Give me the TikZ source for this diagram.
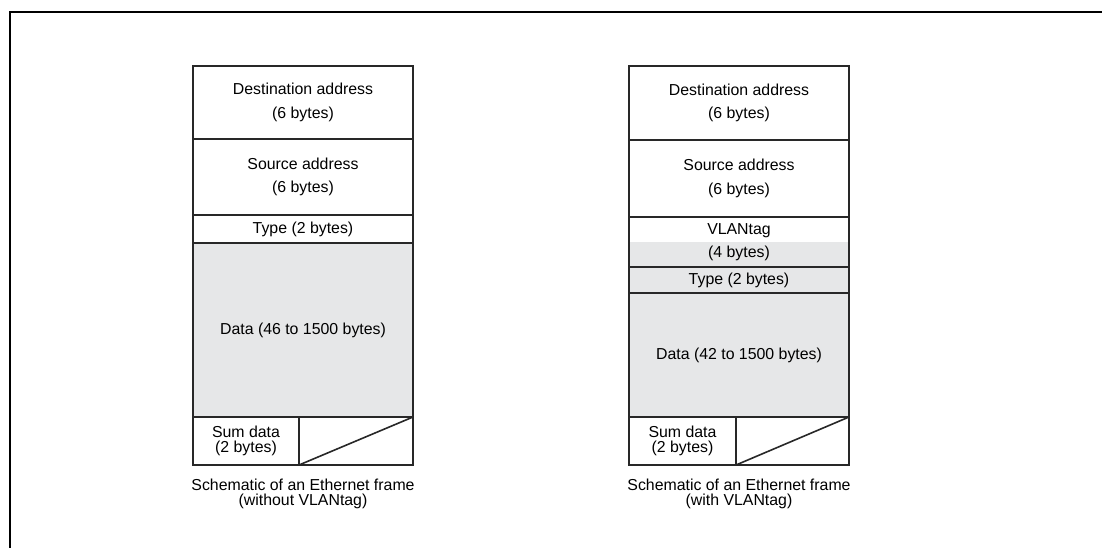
\documentclass[tikz,border=0pt]{standalone}
\usepackage{fontspec}
\setmainfont{Liberation Sans}
\usetikzlibrary{positioning}
\definecolor{cellgray}{RGB}{230,231,232}
\definecolor{edgegray}{RGB}{40,40,40}

\begin{document}
\begin{tikzpicture}[x=0.75pt,y=-0.75pt,
node distance=0pt,
cell/.style={draw=edgegray,line width=1.2pt,fill=white,align=center,minimum width=165pt,inner sep=0pt,outer sep=0pt,font=\fontsize{11.9}{17.5}\selectfont},
gcell/.style={cell,fill=cellgray},
halfcell/.style={cell,path picture={\fill[cellgray] (path picture bounding box.west) rectangle (path picture bounding box.south east);}},
sumcell/.style={cell,font=\fontsize{11.9}{11.3}\selectfont},
caption/.style={align=center,inner sep=0pt,font=\fontsize{11.9}{11}\selectfont},
leftedge/.style={draw=edgegray,line width=2.2pt},
border/.style={draw=black,line width=1.7pt}]
\useasboundingbox (0,0) rectangle (1102,548);
\draw[border] (10,548) -- (10,12) -- (1102,12);
% frame without VLANtag
\node[cell,minimum height=54.75pt,anchor=north] (dstA) at (303,66) {Destination address\\(6 bytes)};
\node[cell,minimum height=57pt,below=of dstA] (srcA) {Source address\\(6 bytes)};
\node[cell,minimum height=21pt,below=of srcA] (typeA) {Type (2 bytes)};
\node[gcell,minimum height=130.5pt,below=of typeA] (dataA) {Data (46 to 1500 bytes)};
\node[sumcell,minimum width=79.5pt,minimum height=36pt,below right=of dataA.south west] (sumA) {Sum data\\(2 bytes)};
\node[cell,minimum width=85.5pt,minimum height=36pt,right=of sumA] (restA) {};
\draw[draw=edgegray,line width=1.2pt] (restA.south west) -- (restA.north east);
\draw[leftedge] (dstA.north west) -- (sumA.south west);
\node[caption,below=46.5pt of dataA] (capA) {Schematic of an Ethernet frame\\(without VLANtag)};
% frame with VLANtag
\node[cell,minimum height=55.5pt,anchor=north] (dstB) at (739,66) {Destination address\\(6 bytes)};
\node[cell,minimum height=57.75pt,below=of dstB] (srcB) {Source address\\(6 bytes)};
\node[halfcell,minimum height=37.5pt,below=of srcB] (vlanB) {VLANtag\\(4 bytes)};
\node[gcell,minimum height=19.5pt,below=of vlanB] (typeB) {Type (2 bytes)};
\node[gcell,minimum height=93pt,below=of typeB] (dataB) {Data (42 to 1500 bytes)};
\node[sumcell,minimum width=80.25pt,minimum height=36pt,below right=of dataB.south west] (sumB) {Sum data\\(2 bytes)};
\node[cell,minimum width=84.75pt,minimum height=36pt,right=of sumB] (restB) {};
\draw[draw=edgegray,line width=1.2pt] (restB.south west) -- (restB.north east);
\draw[leftedge] (dstB.north west) -- (sumB.south west);
\node[caption,below=46.5pt of dataB] (capB) {Schematic of an Ethernet frame\\(with VLANtag)};
\end{tikzpicture}
\end{document}
